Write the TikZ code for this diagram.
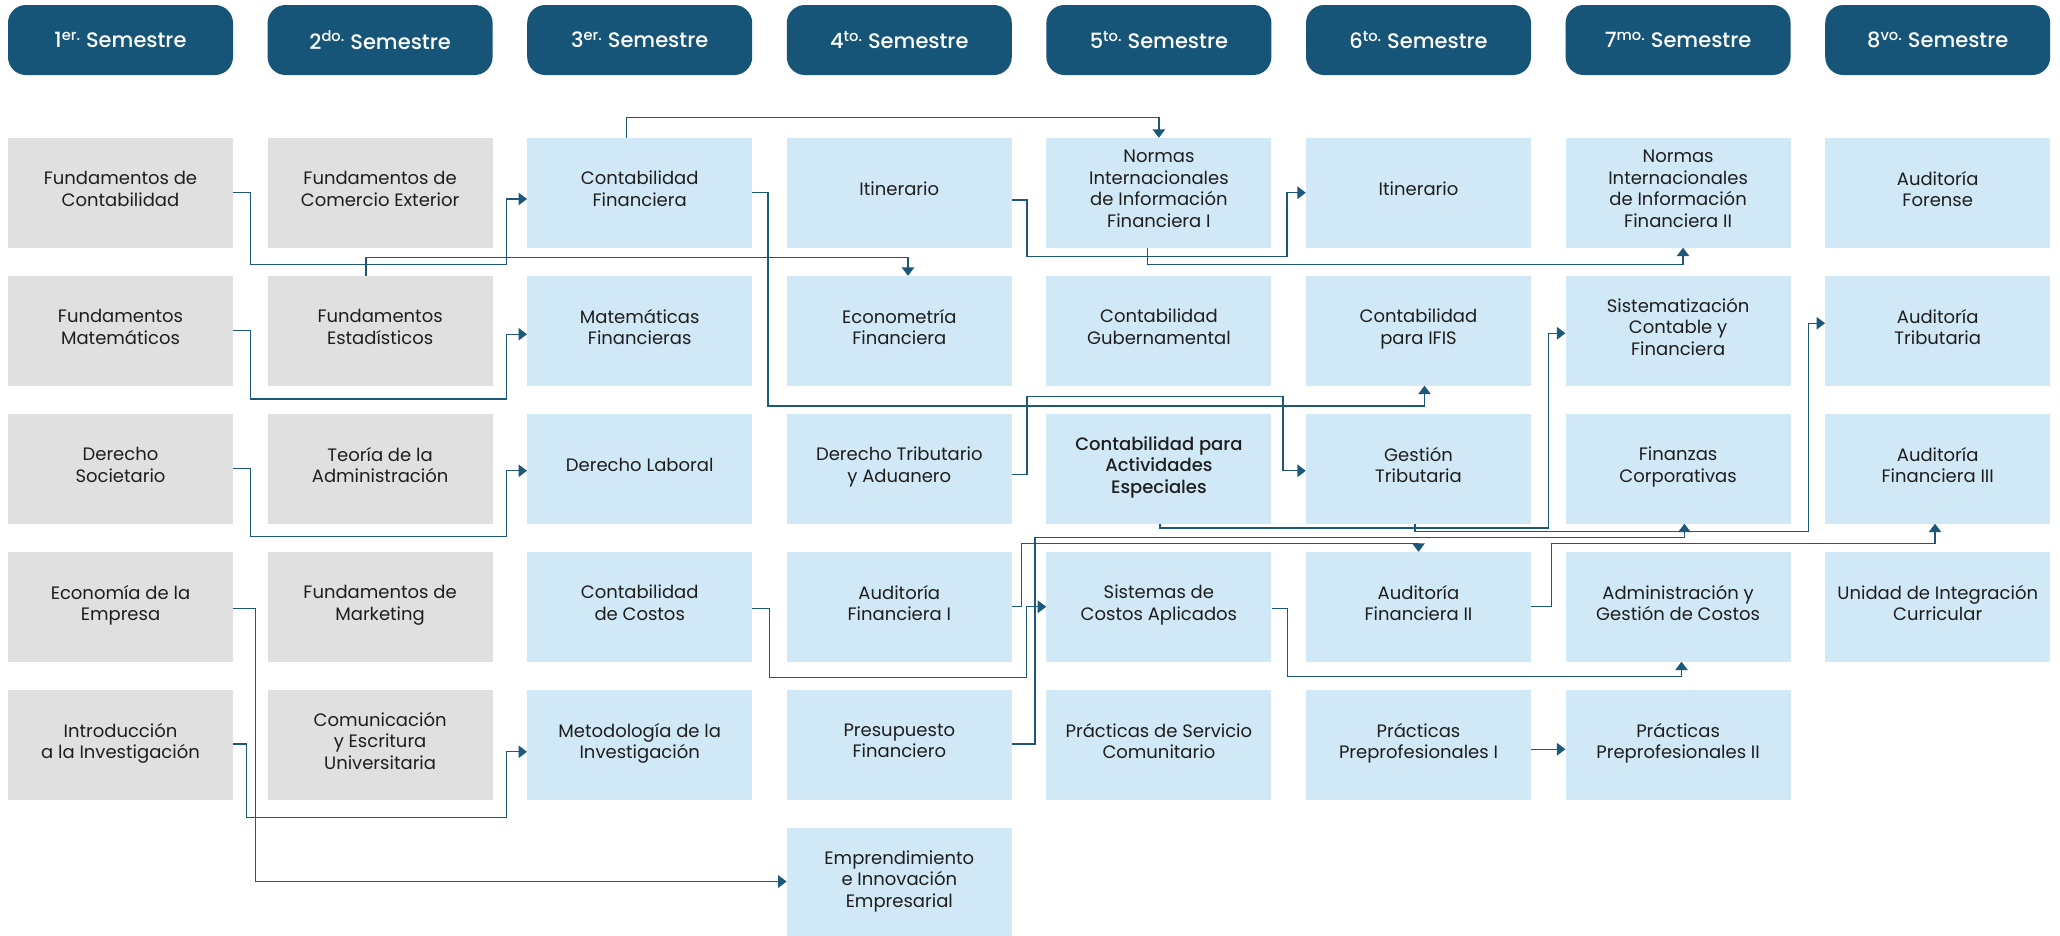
\documentclass[tikz,border=0pt]{standalone}
\usepackage{fontspec}
\setmainfont{Poppins}
\newfontfamily\hdrfont{Poppins Medium}
\usetikzlibrary{arrows.meta,calc}
\definecolor{hdrcol}{RGB}{22,85,120}
\definecolor{linecol}{RGB}{27,88,122}
\definecolor{graybox}{RGB}{224,224,224}
\definecolor{bluebox}{RGB}{209,232,247}
\definecolor{txtcol}{RGB}{30,30,30}
\begin{document}
\begin{tikzpicture}[x=1pt,y=-1pt,
  hdr/.style={fill=hdrcol, rounded corners=18pt, minimum width=225pt, minimum height=70pt, inner sep=0pt, text=white, font=\hdrfont\fontsize{21}{24}\selectfont},
  course/.style={minimum width=225pt, minimum height=109.5pt, inner sep=0pt, align=center, text=txtcol, font=\fontsize{18}{21.5}\selectfont, execute at end node={\rule[-8pt]{0pt}{8pt}}},
  gbox/.style={course, fill=graybox},
  bbox/.style={course, fill=bluebox},
  conn/.style={draw=linecol, line width=1.4pt, -{Triangle[length=8.5pt,width=12.5pt]}},
]
\useasboundingbox[fill=white] (0,0) rectangle (2060,935);
% headers
\node[hdr] (h1) at (120.5,40) {1\textsuperscript{er.} Semestre};
\node[hdr] (h2) at (380.1,40) {2\textsuperscript{do.} Semestre};
\node[hdr] (h3) at (639.7,40) {3\textsuperscript{er.} Semestre};
\node[hdr] (h4) at (899.3,40) {4\textsuperscript{to.} Semestre};
\node[hdr] (h5) at (1158.9,40) {5\textsuperscript{to.} Semestre};
\node[hdr] (h6) at (1418.5,40) {6\textsuperscript{to.} Semestre};
\node[hdr] (h7) at (1678.1,40) {7\textsuperscript{mo.} Semestre};
\node[hdr] (h8) at (1937.7,40) {8\textsuperscript{vo.} Semestre};
% row 1
\node[gbox] (a11) at (120.5,192.75) {Fundamentos de\\Contabilidad};
\node[gbox] (a12) at (380.1,192.75) {Fundamentos de\\Comercio Exterior};
\node[bbox] (a13) at (639.7,192.75) {Contabilidad\\Financiera};
\node[bbox] (a14) at (899.3,192.75) {Itinerario};
\node[bbox] (a15) at (1158.9,192.75) {Normas\\Internacionales\\de Información\\Financiera I};
\node[bbox] (a16) at (1418.5,192.75) {Itinerario};
\node[bbox] (a17) at (1678.1,192.75) {Normas\\Internacionales\\de Información\\Financiera II};
\node[bbox] (a18) at (1937.7,192.75) {Auditoría\\Forense};
% row 2
\node[gbox] (a21) at (120.5,330.75) {Fundamentos\\Matemáticos};
\node[gbox] (a22) at (380.1,330.75) {Fundamentos\\Estadísticos};
\node[bbox] (a23) at (639.7,330.75) {Matemáticas\\Financieras};
\node[bbox] (a24) at (899.3,330.75) {Econometría\\Financiera};
\node[bbox] (a25) at (1158.9,330.75) {Contabilidad\\Gubernamental};
\node[bbox] (a26) at (1418.5,330.75) {Contabilidad\\para IFIS};
\node[bbox] (a27) at (1678.1,330.75) {Sistematización\\Contable y\\Financiera};
\node[bbox] (a28) at (1937.7,330.75) {Auditoría\\Tributaria};
% row 3
\node[gbox] (a31) at (120.5,468.75) {Derecho\\Societario};
\node[gbox] (a32) at (380.1,468.75) {Teoría de la\\Administración};
\node[bbox] (a33) at (639.7,468.75) {Derecho Laboral};
\node[bbox] (a34) at (899.3,468.75) {Derecho Tributario\\y Aduanero};
\node[bbox, font=\hdrfont\fontsize{18}{21.5}\selectfont] (a35) at (1158.9,468.75) {Contabilidad para\\Actividades\\Especiales};
\node[bbox] (a36) at (1418.5,468.75) {Gestión\\Tributaria};
\node[bbox] (a37) at (1678.1,468.75) {Finanzas\\Corporativas};
\node[bbox] (a38) at (1937.7,468.75) {Auditoría\\Financiera III};
% row 4
\node[gbox] (a41) at (120.5,606.75) {Economía de la\\Empresa};
\node[gbox] (a42) at (380.1,606.75) {Fundamentos de\\Marketing};
\node[bbox] (a43) at (639.7,606.75) {Contabilidad\\de Costos};
\node[bbox] (a44) at (899.3,606.75) {Auditoría\\Financiera I};
\node[bbox] (a45) at (1158.9,606.75) {Sistemas de\\Costos Aplicados};
\node[bbox] (a46) at (1418.5,606.75) {Auditoría\\Financiera II};
\node[bbox] (a47) at (1678.1,606.75) {Administración y\\Gestión de Costos};
\node[bbox] (a48) at (1937.7,606.75) {Unidad de Integración\\Curricular};
% row 5
\node[gbox] (a51) at (120.5,744.75) {Introducción\\a la Investigación};
\node[gbox] (a52) at (380.1,744.75) {Comunicación\\y Escritura\\Universitaria};
\node[bbox] (a53) at (639.7,744.75) {Metodología de la\\Investigación};
\node[bbox] (a54) at (899.3,744.75) {Presupuesto\\Financiero};
\node[bbox] (a55) at (1158.9,744.75) {Prácticas de Servicio\\Comunitario};
\node[bbox] (a56) at (1418.5,744.75) {Prácticas\\Preprofesionales I};
\node[bbox] (a57) at (1678.1,744.75) {Prácticas\\Preprofesionales II};
% row 6
\node[bbox] (a64) at (899.3,882.75) {Emprendimiento\\e Innovación\\Empresarial};
% connectors
\draw[conn] (a11.east) -| (250.5,264.3) -- (506.6,264.3) |- ([yshift=-6.25pt]a13.west);
\draw[conn] ([xshift=-14.3pt]a22.north) |- (908,257.7) -- ([xshift=8.7pt]a24.north);
\draw[conn] (a21.east) -| (250.5,399) -- (506.6,399) |- ([yshift=-3.5pt]a23.west);
\draw[conn] (a31.east) -| (250.5,536.7) -- (506.6,536.7) |- ([yshift=-2pt]a33.west);
\draw[conn] ([xshift=-13.2pt]a13.north) |- (1158.9,117.7) -- (a15.north);
\draw[conn] (a13.east) -| (767.8,406) -| ([xshift=6pt]a26.south);
\draw[conn] ([yshift=-7.25pt]a14.east) -| (1027,256.7) -- (1287,256.7) |- (a16.west);
\draw[conn] ([xshift=-11.6pt]a15.south) |- (1683,264.7) -- ([xshift=4.9pt]a17.south);
\draw[conn] ([yshift=-5.5pt]a34.east) -| (1027,396.3) -- (1283,396.3) |- ([yshift=-2pt]a36.west);
\draw[conn] ([xshift=1.1pt]a35.south) |- (1548.6,528) |- ([yshift=-2.5pt]a27.west);
\draw[conn] ([xshift=-3.5pt]a36.south) |- (1808.3,531.7) |- ([yshift=7.5pt]a28.west);
\draw[conn] ([yshift=-1.5pt]a43.east) -| (769.5,677.5) -- (1026.3,677.5) |- (a45.west);
\draw[conn] (a44.east) -| (1021.5,543.3) -| (a46.north);
\draw[conn] ([yshift=0.75pt]a54.east) -| (1035,537.2) -| ([xshift=6.3pt]a37.south);
\draw[conn] (a46.east) -| (1551.7,543.3) -| ([xshift=-2.7pt]a38.south);
\draw[conn] ([yshift=-1.5pt]a45.east) -| (1287.6,676.7) -| ([xshift=3.4pt]a47.south);
\draw[conn] ([yshift=-1.5pt]a41.east) -| (255.5,881.5) -- ([yshift=1.25pt]a64.west);
\draw[conn] ([yshift=0.75pt]a51.east) -| (246.4,817.3) -- (506.4,817.3) |- ([yshift=-7pt]a53.west);
\draw[conn] ([yshift=-4.5pt]a56.east) -- ([yshift=-4.5pt]a57.west);
\end{tikzpicture}
\end{document}
